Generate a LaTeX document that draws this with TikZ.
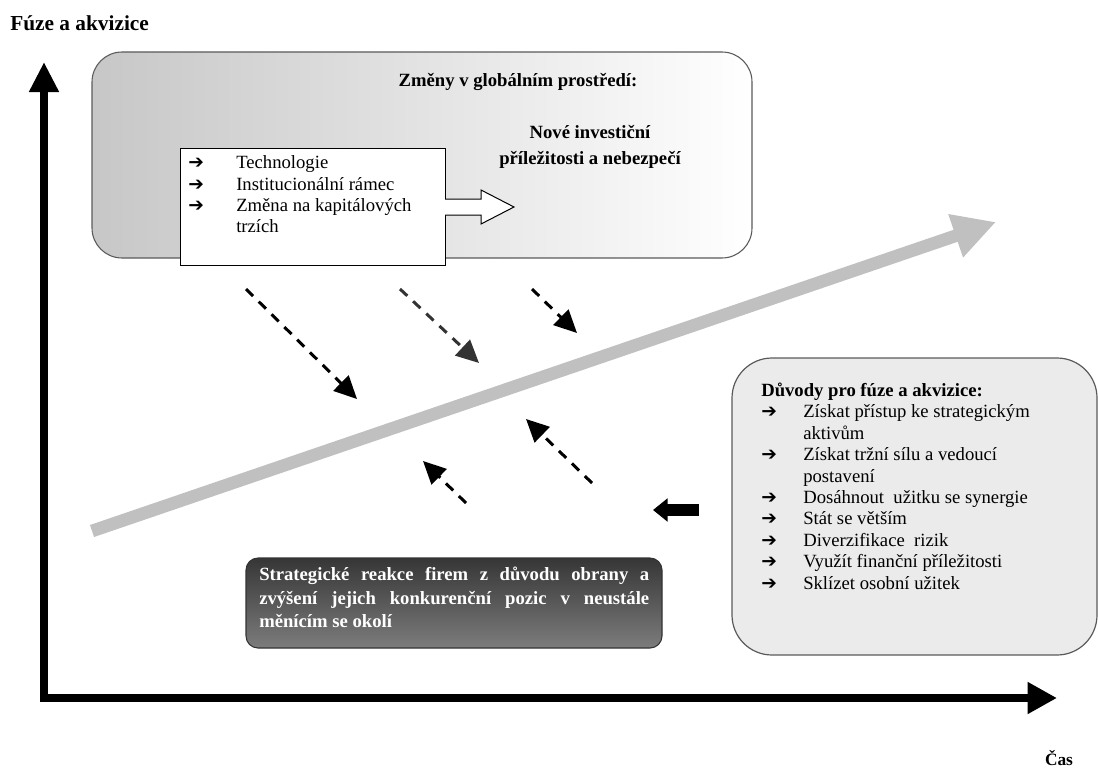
\documentclass[tikz,border=0pt]{standalone}
\usepackage{fontspec}
\setmainfont{Liberation Serif}
\newfontfamily\arrowfont{DejaVu Sans}
\usetikzlibrary{arrows.meta}
\definecolor{grayarrow}{HTML}{C0C0C0}
\definecolor{boxedge}{HTML}{5A5A5A}
\definecolor{lightfill}{HTML}{EBEBEB}
\definecolor{darktop}{HTML}{363636}
\definecolor{darkbot}{HTML}{7C7C7C}
\definecolor{arrowtwo}{HTML}{333333}
\newcommand{\itemarrow}{{\arrowfont\bfseries\fontsize{14}{11}\selectfont ➔}}
\begin{document}
\begin{tikzpicture}[x=0.75pt,y=-0.75pt,
  txt/.style={inner sep=0pt, font=\fontsize{14}{16.05}\selectfont},
  headtxt/.style={inner sep=0pt, font=\bfseries\fontsize{14}{20}\selectfont, align=center},
  dasharrow/.style={line width=2.25pt, dash pattern=on 7.5pt off 6pt, -{Triangle[length=17pt,width=16pt]}},
  axisline/.style={line width=6pt, line join=miter, {Triangle[length=22.5pt,width=21pt]}-{Triangle[length=22pt,width=22.5pt]}}
]
\useasboundingbox (0,0) rectangle (1098,767);

% axes
\coordinate (ytip) at (44,62);
\coordinate (orig) at (44,698);
\coordinate (xtip) at (1057,698);
\draw[axisline] (ytip) -- (orig) -- (xtip);
\node[anchor=west, inner sep=0pt, font=\bfseries\fontsize{16}{16}\selectfont] (ytitle) at (10,23) {Fúze a akvizice};
\node[inner sep=0pt, font=\bfseries\fontsize{13}{13}\selectfont] (xtitle) at (1059,758) {Čas};

% top box
\node[draw=boxedge, line width=0.8pt, rounded corners=22.5pt, left color=black!22, middle color=black!6, right color=white,
      minimum width=495pt, minimum height=154.5pt, inner sep=0pt] (topbox) at (422,155) {};
\node[headtxt] (zmeny) at (518,82) {Změny v globálním prostředí:};
\node[headtxt] (nove) at (590,147) {Nové investiční\\příležitosti a nebezpečí};

% white box with list
\node[draw=black, line width=0.75pt, fill=white, minimum width=198.75pt, minimum height=87.75pt, inner sep=0pt] (whitebox) at (312.5,206.5) {};
\node[txt, anchor=west] (wtext) at (188,196.5) {\begin{tabular}{@{}p{36pt}@{}l@{}}
\itemarrow & Technologie\\
\itemarrow & Institucionální rámec\\
\itemarrow & Změna na kapitálových\\
 & trzích
\end{tabular}};

% hollow arrow
\draw[fill=white, line width=0.75pt] (445,199) -- (481,199) -- (481,190) -- (514,207) -- (481,224) -- (481,215) -- (445,215);

% long grey arrow
\coordinate (g1) at (92,531);
\coordinate (g2) at (996,222);
\draw[grayarrow, line width=9.5pt, -{Triangle[length=32pt,width=32pt]}] (g1) -- (g2);

% dashed arrows
\coordinate (d1s) at (246,289); \coordinate (d1e) at (357,399);
\coordinate (d2s) at (400,289); \coordinate (d2e) at (479,363);
\coordinate (d3s) at (532,289); \coordinate (d3e) at (577,333);
\coordinate (d4s) at (592,483); \coordinate (d4e) at (526,419);
\coordinate (d5s) at (466,503); \coordinate (d5e) at (423,461);
\draw[dasharrow] (d1s) -- (d1e);
\draw[dasharrow, arrowtwo] (d2s) -- (d2e);
\draw[dasharrow] (d3s) -- (d3e);
\draw[dasharrow] (d4s) -- (d4e);
\draw[dasharrow] (d5s) -- (d5e);

% right box
\node[draw=boxedge, line width=0.9pt, rounded corners=30pt, fill=lightfill,
      minimum width=273.75pt, minimum height=222.75pt, inner sep=0pt] (rightbox) at (914.5,506.5) {};
\node[txt, anchor=west] (rtext) at (761,488.5) {\begin{tabular}{@{}p{31.5pt}@{}l@{}}
\multicolumn{2}{@{}l@{}}{\bfseries Důvody pro fúze a akvizice:}\\
\itemarrow & Získat přístup ke strategickým\\
 & aktivům\\
\itemarrow & Získat tržní sílu a vedoucí\\
 & postavení\\
\itemarrow & Dosáhnout\ \ užitku se synergie\\
\itemarrow & Stát se větším\\
\itemarrow & Diverzifikace\ \ rizik\\
\itemarrow & Využít finanční příležitosti\\
\itemarrow & Sklízet osobní užitek
\end{tabular}};

% black block arrow
\coordinate (ba1) at (699,510);
\coordinate (ba2) at (653,510);
\draw[line width=9pt, -{Triangle[length=11pt,width=17pt]}] (ba1) -- (ba2);

% dark box
\node[draw=black!80, line width=0.8pt, rounded corners=9pt, top color=darktop, bottom color=darkbot,
      minimum width=312pt, minimum height=67.5pt, inner sep=0pt] (darkbox) at (454,603) {};
\node[anchor=north west, inner sep=0pt, text=white, text width=292.5pt, align=justify,
      font=\bfseries\fontsize{14}{17.6}\selectfont] (darktext) at (259,567)
  {Strategické reakce firem z důvodu obrany a\linebreak zvýšení jejich konkurenční pozic v neustále\linebreak měnícím se okolí};
\end{tikzpicture}
\end{document}
